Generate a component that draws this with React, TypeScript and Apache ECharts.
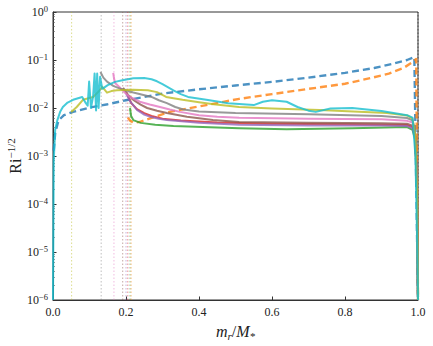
import React, { useEffect, useRef } from "react";
import * as echarts from "echarts";

// [m_r/M_*, Ri^{-1/2}]
const blueDashed: [number, number][] = [
  [0.002, 0.0013], [0.006, 0.003], [0.015, 0.0055], [0.03, 0.0071], [0.055, 0.0083],
  [0.1, 0.0102], [0.15, 0.012], [0.2, 0.0145], [0.25, 0.017], [0.3, 0.02], [0.4, 0.0245],
  [0.5, 0.0295], [0.6, 0.035], [0.7, 0.043], [0.8, 0.054], [0.88, 0.068], [0.93, 0.083],
  [0.97, 0.1], [0.99, 0.115], [1.0, 0.000001],
];
const orangeDashed: [number, number][] = [
  [0.205, 0.0063], [0.212, 0.0054], [0.222, 0.0049], [0.24, 0.0052], [0.27, 0.0062], [0.32, 0.0083],
  [0.42, 0.0115], [0.51, 0.0155], [0.6, 0.0195], [0.7, 0.025], [0.8, 0.032], [0.87, 0.042],
  [0.92, 0.052], [0.96, 0.068], [0.985, 0.09], [0.995, 0.105], [1.0, 0.000001],
];
const greenLine: [number, number][] = [
  [0.211, 0.01], [0.214, 0.0068], [0.22, 0.0056], [0.24, 0.0049], [0.28, 0.0045], [0.33, 0.0042], [0.51, 0.0038],
  [0.64, 0.0036], [0.82, 0.0038], [0.97, 0.004], [0.985, 0.0035], [0.992, 0.0022], [0.997, 0.0003], [1.0, 0.000001],
];
const redLine: [number, number][] = [
  [0.205, 0.0178], [0.215, 0.0125], [0.23, 0.0095], [0.25, 0.0078], [0.27, 0.0068], [0.3, 0.006], [0.35, 0.0055], [0.45, 0.005],
  [0.6, 0.0047], [0.8, 0.0046], [0.97, 0.0044], [0.985, 0.004], [0.992, 0.0026], [0.997, 0.0003], [1.0, 0.000001],
];
const purpleLine: [number, number][] = [
  [0.2, 0.0204], [0.212, 0.0135], [0.23, 0.0091], [0.25, 0.0073], [0.265, 0.0066], [0.29, 0.006], [0.312, 0.0056], [0.4, 0.0049],
  [0.51, 0.0045], [0.7, 0.0043], [0.9, 0.0043], [0.97, 0.0042], [0.985, 0.0038], [0.992, 0.0025], [0.997, 0.0003], [1.0, 0.000001],
];
const brownLine: [number, number][] = [
  [0.192, 0.0263], [0.205, 0.019], [0.22, 0.0148], [0.24, 0.0118], [0.258, 0.01], [0.285, 0.0088], [0.312, 0.0079], [0.367, 0.0066],
  [0.438, 0.0056], [0.51, 0.0051], [0.7, 0.0049], [0.9, 0.0048], [0.97, 0.0047], [0.985, 0.0043], [0.992, 0.0028], [0.997, 0.0003], [1.0, 0.000001],
];
const pinkLine: [number, number][] = [
  [0.165, 0.0537], [0.167, 0.042], [0.17, 0.0331], [0.184, 0.0263], [0.198, 0.0205], [0.211, 0.017], [0.238, 0.0135],
  [0.265, 0.0118], [0.293, 0.0105], [0.32, 0.0093], [0.348, 0.0083], [0.4, 0.0071], [0.45, 0.0066], [0.51, 0.0063], [0.7, 0.006], [0.9, 0.0058],
  [0.97, 0.0054], [0.985, 0.005], [0.992, 0.003], [0.997, 0.0003], [1.0, 0.000001],
];
const grayLine: [number, number][] = [
  [0.13, 0.056], [0.138, 0.043], [0.148, 0.0355], [0.165, 0.029], [0.185, 0.0251], [0.22, 0.021], [0.27, 0.017], [0.29, 0.0145], [0.312, 0.0126],
  [0.335, 0.0105], [0.357, 0.0093], [0.4, 0.0085], [0.5, 0.0079], [0.7, 0.0074], [0.9, 0.0068], [0.97, 0.0062],
  [0.985, 0.0055], [0.992, 0.0035], [0.997, 0.0003], [1.0, 0.000001],
];
const oliveLine: [number, number][] = [
  [0.05, 0.0083], [0.065, 0.0105], [0.082, 0.0148], [0.11, 0.017], [0.125, 0.022], [0.135, 0.0275],
  [0.148, 0.0209], [0.16, 0.0225], [0.175, 0.0234], [0.22, 0.024], [0.26, 0.0234], [0.285, 0.0214], [0.31, 0.017],
  [0.33, 0.016], [0.355, 0.0148], [0.4, 0.0132], [0.44, 0.012], [0.51, 0.0105], [0.6, 0.0098], [0.73, 0.0091], [0.915, 0.0079], [0.97, 0.007],
  [0.985, 0.006], [0.993, 0.0025], [0.998, 0.0001], [1.0, 0.000001],
];
const cyanLine: [number, number][] = [
  [0.0, 0.000001], [0.002, 0.00079], [0.006, 0.0035], [0.012, 0.0056], [0.02, 0.0085], [0.027, 0.0105], [0.04, 0.013],
  [0.055, 0.0148], [0.08, 0.017], [0.09, 0.0126], [0.095, 0.0112], [0.099, 0.0355], [0.104, 0.01],
  [0.11, 0.0178], [0.114, 0.0525], [0.118, 0.0089], [0.121, 0.0525], [0.125, 0.01], [0.129, 0.0447],
  [0.135, 0.0251], [0.15, 0.03], [0.17, 0.035], [0.19, 0.038], [0.22, 0.0417], [0.25, 0.042], [0.27, 0.0398], [0.285, 0.036], [0.3, 0.0315],
  [0.33, 0.0234], [0.35, 0.0195], [0.37, 0.017], [0.42, 0.0148], [0.48, 0.0126], [0.55, 0.0115], [0.575, 0.0135], [0.6, 0.0145],
  [0.64, 0.0135], [0.67, 0.0105], [0.7, 0.0088], [0.72, 0.0083], [0.76, 0.0098], [0.82, 0.01], [0.9, 0.0087],
  [0.97, 0.0071], [0.985, 0.0063], [0.993, 0.001], [0.997, 0.0000316], [1.0, 0.000001],
];

// zone boundaries (dotted verticals)
const boundaryMass = [0.051, 0.132, 0.167, 0.191, 0.2, 0.205, 0.211, 0.214, 1.0];
const boundaryColor = ["#bcbd22", "#7f7f7f", "#e377c2", "#8c564b", "#9467bd", "#d62728", "#2ca02c", "#ff7f0e", "#444444"];

const xTicks = [0, 0.2, 0.4, 0.6, 0.8, 1.0];
const yDecades = [-6, -5, -4, -3, -2, -1, 0];

const FONT = "Liberation Serif";

export default function App() {
  const ref = useRef<HTMLDivElement>(null);
  useEffect(() => {
    if (!ref.current) return;
    const chart = echarts.init(ref.current, undefined, { renderer: "svg" });

    const minorVals: number[] = [];
    for (const d of yDecades) {
      if (d >= 0) continue;
      for (let k = 2; k <= 9; k++) minorVals.push(k * Math.pow(10, d));
    }

    const lineSeries = (data: [number, number][], color: string, dashed: boolean, z: number) => ({
      type: "line",
      data,
      showSymbol: false,
      symbol: "none",
      smooth: false,
      z,
      lineStyle: {
        color,
        width: dashed ? 2.4 : 2,
        opacity: 0.8,
        type: dashed ? [7, 4] : "solid",
        join: "round",
      },
    });

    const vertical = boundaryMass.map((m, i) => ({
      type: "line",
      data: [[m, 0.000001], [m, 1]],
      showSymbol: false,
      symbol: "none",
      z: 1,
      lineStyle: { color: boundaryColor[i], width: 1, opacity: i === boundaryMass.length - 1 ? 0.8 : 0.5, type: [1.5, 2] },
    }));

    const supFmt = (v: number) => {
      const e = Math.round(Math.log10(v));
      const s = e < 0 ? "\u2212" + -e : String(e);
      return `{b|10}{s|${s}}`;
    };

    chart.setOption({
      animation: false,
      grid: {
        left: 53, right: 15, top: 12, bottom: 46,
        containLabel: false, outerBoundsMode: "none",
        show: true, borderColor: "#333", borderWidth: 1,
      },
      graphic: [
        {
          type: "text",
          x: 15,
          y: 156,
          rotation: Math.PI / 2,
          style: {
            text: "{r|Ri}{s|\u22121/2}",
            align: "center",
            verticalAlign: "middle",
            rich: {
              r: { fontFamily: FONT, fontSize: 16, fill: "#222", lineHeight: 20 },
              s: { fontFamily: FONT, fontSize: 11, fill: "#222", lineHeight: 10, verticalAlign: "top" },
            },
          },
        },
      ],
      xAxis: {
        type: "value",
        min: 0,
        max: 1,
        interval: 0.2,
        axisLine: { lineStyle: { color: "#333", width: 1 } },
        axisTick: { inside: true, length: 3.5, lineStyle: { color: "#333" } },
        splitLine: { show: false },
        axisLabel: {
          margin: 6,
          color: "#222",
          fontFamily: FONT,
          fontSize: 12,
          formatter: (v: number) => (xTicks.some((t) => Math.abs(t - v) < 1e-9) ? v.toFixed(1) : ""),
        },
        name: "{i|m}{sub|r}{n|/}{i|M}{sub|*}",
        nameLocation: "middle",
        nameGap: 22,
        nameTextStyle: {
          rich: {
            i: { fontFamily: FONT, fontStyle: "italic", fontSize: 16, color: "#222", lineHeight: 19 },
            n: { fontFamily: FONT, fontSize: 16, color: "#222", lineHeight: 19 },
            sub: { fontFamily: FONT, fontStyle: "italic", fontSize: 11, color: "#222", lineHeight: 9, verticalAlign: "bottom" },
          },
        },
      },
      yAxis: [
        {
          type: "log",
          logBase: 10,
          min: 0.000001,
          max: 1,
          axisLine: { show: true, lineStyle: { color: "#333", width: 1 } },
          axisTick: { inside: true, length: 3.5, lineStyle: { color: "#333" } },
          splitLine: { show: false },
          minorTick: { show: false },
          axisLabel: {
            margin: 5,
            formatter: supFmt,
            rich: {
              b: { fontFamily: FONT, fontSize: 12, color: "#222", lineHeight: 16 },
              s: { fontFamily: FONT, fontSize: 8.5, color: "#222", lineHeight: 9, verticalAlign: "top" },
            },
          },
        },
        {
          type: "log",
          logBase: 10,
          min: 0.000001,
          max: 1,
          position: "left",
          axisLine: { show: false },
          splitLine: { show: false },
          axisLabel: { show: false },
          axisTick: { show: true, inside: true, length: 2, customValues: minorVals, lineStyle: { color: "#555", width: 0.6 } },
        },
      ],
      series: [
        ...vertical,
        lineSeries(blueDashed, "#1f77b4", true, 2),
        lineSeries(orangeDashed, "#ff7f0e", true, 3),
        lineSeries(greenLine, "#2ca02c", false, 4),
        lineSeries(redLine, "#d62728", false, 5),
        lineSeries(purpleLine, "#9467bd", false, 6),
        lineSeries(brownLine, "#8c564b", false, 7),
        lineSeries(pinkLine, "#e377c2", false, 8),
        lineSeries(grayLine, "#7f7f7f", false, 9),
        lineSeries(oliveLine, "#bcbd22", false, 10),
        lineSeries(cyanLine, "#17becf", false, 11),
      ],
    });
    return () => chart.dispose();
  }, []);
  return <div ref={ref} style={{ width: 433, height: 346, position: "absolute", left: 0, top: 0 }} />;
}
